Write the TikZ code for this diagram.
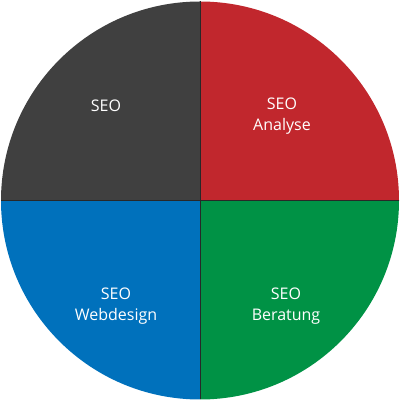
\documentclass[tikz,border=0pt]{standalone}
\usepackage{fontspec}
\setmainfont{Open Sans}
\usetikzlibrary{positioning}
\definecolor{Cd}{RGB}{64,64,64}
\definecolor{Cr}{RGB}{193,39,45}
\definecolor{Cb}{RGB}{0,113,188}
\definecolor{Cg}{RGB}{0,146,69}
\definecolor{Cln}{RGB}{40,40,40}
\tikzset{
  L/.style={
    text=white, align=center, font=\fontsize{16}{21}\selectfont,
    inner sep=0pt
  }
}

\begin{document}
\begin{tikzpicture}[x=1pt, y=1pt]
\useasboundingbox (0,0) rectangle (400,401);

% ─────────────────────────────────────────────────────────────────────────────
%  QUARTERS
% ─────────────────────────────────────────────────────────────────────────────
\coordinate (m) at (200,200.5);
\fill[Cd] (m) -- (1,200.5) arc[start angle=180, end angle=90, radius=199] -- cycle;
\fill[Cr] (m) -- (200,399.5) arc[start angle=90, end angle=0, radius=199] -- cycle;
\fill[Cb] (m) -- (200,1.5) arc[start angle=270, end angle=180, radius=199] -- cycle;
\fill[Cg] (m) -- (399,200.5) arc[start angle=0, end angle=-90, radius=199] -- cycle;

% dividing lines
\draw[Cln, line width=0.8pt] (1,200.5) -- (399,200.5);
\draw[Cln, line width=0.8pt] (200,1.5) -- (200,399.5);

% ─────────────────────────────────────────────────────────────────────────────
%  LABELS
% ─────────────────────────────────────────────────────────────────────────────
\node[L] (seo)  at (106,295) {SEO};
\node[L] (ana)  at (282,285) {SEO\\Analyse};
\node[L] (web)  at (116,95)  {SEO\\Webdesign};
\node[L] (ber)  at (286,94.5)  {SEO\\Beratung};

\end{tikzpicture}
\end{document}
